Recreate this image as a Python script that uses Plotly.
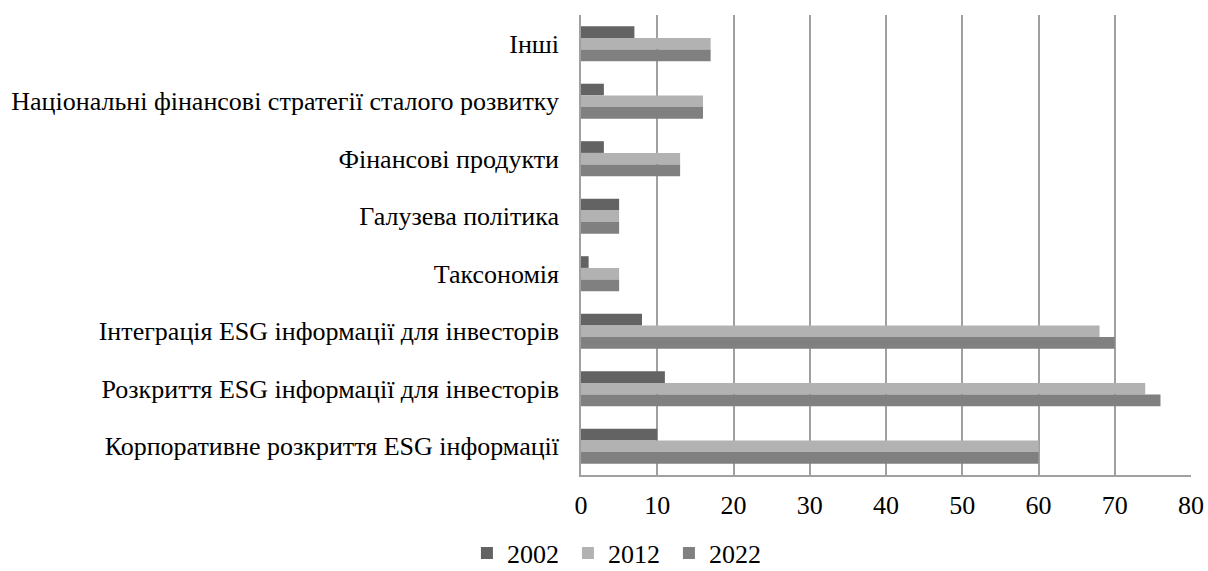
import plotly.graph_objects as go

categories = [
    "Інші",
    "Національні фінансові стратегії сталого розвитку",
    "Фінансові продукти",
    "Галузева політика",
    "Таксономія",
    "Інтеграція ESG інформації для інвесторів",
    "Розкриття ESG інформації для інвесторів",
    "Корпоративне розкриття ESG інформації",
]
v2002 = [7, 3, 3, 5, 1, 8, 11, 10]
v2012 = [17, 16, 13, 5, 5, 68, 74, 60]
v2022 = [17, 16, 13, 5, 5, 70, 76, 60]
series_names = ["2002", "2012", "2022"]
colors = ["#636363", "#b2b2b2", "#808080"]

fig = go.Figure()
for name, vals, col in zip(series_names, [v2002, v2012, v2022], colors):
    fig.add_trace(go.Bar(
        y=categories, x=vals, name=name, orientation="h",
        marker=dict(color=col, line=dict(width=0)),
    ))

font_family = "Liberation Serif"
fig.update_layout(
    width=1208, height=571,
    barmode="group", bargap=0.39, bargroupgap=0,
    paper_bgcolor="white", plot_bgcolor="white",
    margin=dict(l=581, r=17, t=15, b=96, autoexpand=False),
    font=dict(family=font_family, size=26, color="#000000"),
    showlegend=True,
    legend=dict(orientation="h", x=-0.187, xanchor="left", y=-0.17, yanchor="middle",
                font=dict(family=font_family, size=26), itemwidth=30,
                entrywidth=56, entrywidthmode="pixels",
                traceorder="normal"),
    xaxis=dict(range=[0, 80], dtick=10, showgrid=True, gridcolor="#a0a0a0", gridwidth=1.5,
               showline=True, linecolor="#a0a0a0", linewidth=1.5, zeroline=False,
               ticks="", automargin=False, ticklabelstandoff=6,
               tickfont=dict(family=font_family, size=26)),
    yaxis=dict(autorange="reversed", showline=True, linecolor="#a0a0a0", linewidth=1.5,
               ticks="", automargin=False, ticklabelstandoff=15,
               tickfont=dict(family=font_family, size=26)),
)
fig.write_html("out.html", config={"displayModeBar": False},
               post_script="document.body.style.margin='0';")
